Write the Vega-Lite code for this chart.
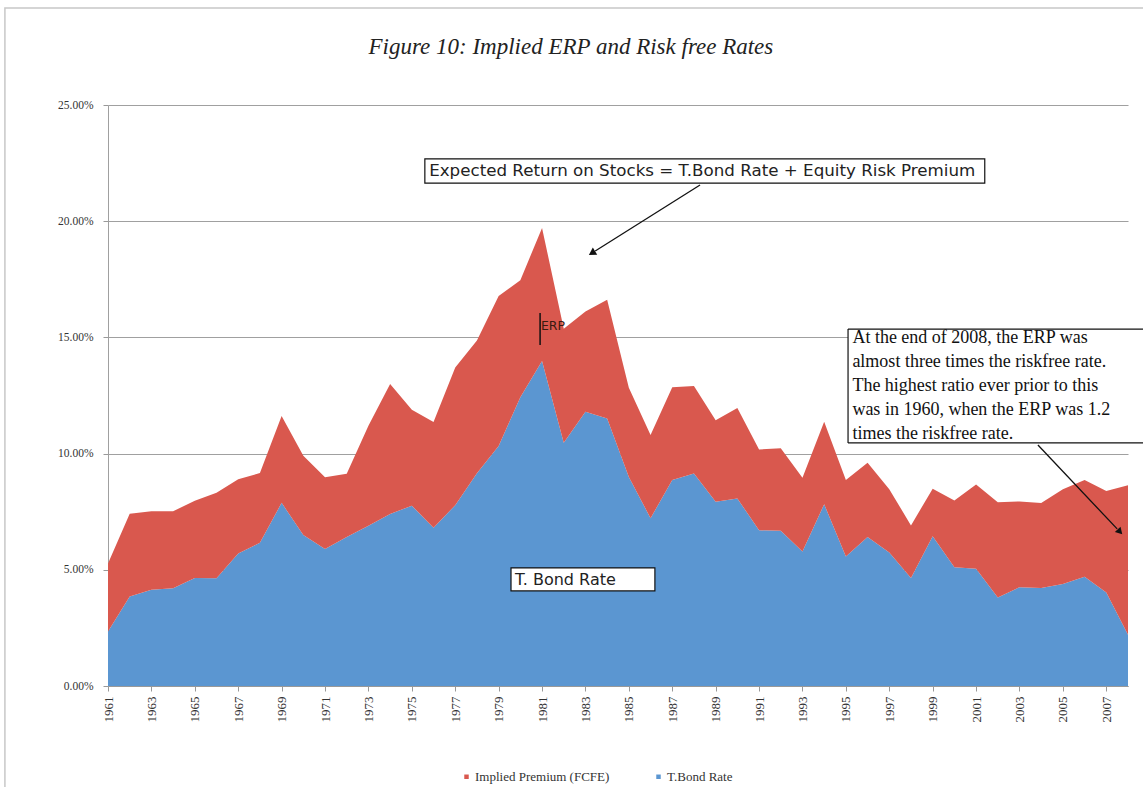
{
  "$schema": "https://vega.github.io/schema/vega-lite/v6.json",
  "width": 1020,
  "height": 581,
  "autosize": {"type": "none"},
  "padding": {"left": 108, "top": 105, "right": 15, "bottom": 101},
  "background": "white",
  "config": {"view": {"stroke": null}, "font": "Liberation Serif"},
  "data": {
    "values": [
      {"year": 1961, "series": "T.Bond Rate", "value": 0.0235}, {"year": 1961, "series": "Implied Premium (FCFE)", "value": 0.0292},
      {"year": 1962, "series": "T.Bond Rate", "value": 0.0385}, {"year": 1962, "series": "Implied Premium (FCFE)", "value": 0.0356},
      {"year": 1963, "series": "T.Bond Rate", "value": 0.0414}, {"year": 1963, "series": "Implied Premium (FCFE)", "value": 0.0338},
      {"year": 1964, "series": "T.Bond Rate", "value": 0.0421}, {"year": 1964, "series": "Implied Premium (FCFE)", "value": 0.0331},
      {"year": 1965, "series": "T.Bond Rate", "value": 0.0465}, {"year": 1965, "series": "Implied Premium (FCFE)", "value": 0.0332},
      {"year": 1966, "series": "T.Bond Rate", "value": 0.0464}, {"year": 1966, "series": "Implied Premium (FCFE)", "value": 0.0368},
      {"year": 1967, "series": "T.Bond Rate", "value": 0.0570}, {"year": 1967, "series": "Implied Premium (FCFE)", "value": 0.0320},
      {"year": 1968, "series": "T.Bond Rate", "value": 0.0616}, {"year": 1968, "series": "Implied Premium (FCFE)", "value": 0.0300},
      {"year": 1969, "series": "T.Bond Rate", "value": 0.0788}, {"year": 1969, "series": "Implied Premium (FCFE)", "value": 0.0374},
      {"year": 1970, "series": "T.Bond Rate", "value": 0.0650}, {"year": 1970, "series": "Implied Premium (FCFE)", "value": 0.0341},
      {"year": 1971, "series": "T.Bond Rate", "value": 0.0589}, {"year": 1971, "series": "Implied Premium (FCFE)", "value": 0.0309},
      {"year": 1972, "series": "T.Bond Rate", "value": 0.0641}, {"year": 1972, "series": "Implied Premium (FCFE)", "value": 0.0272},
      {"year": 1973, "series": "T.Bond Rate", "value": 0.0690}, {"year": 1973, "series": "Implied Premium (FCFE)", "value": 0.0430},
      {"year": 1974, "series": "T.Bond Rate", "value": 0.0740}, {"year": 1974, "series": "Implied Premium (FCFE)", "value": 0.0559},
      {"year": 1975, "series": "T.Bond Rate", "value": 0.0776}, {"year": 1975, "series": "Implied Premium (FCFE)", "value": 0.0413},
      {"year": 1976, "series": "T.Bond Rate", "value": 0.0681}, {"year": 1976, "series": "Implied Premium (FCFE)", "value": 0.0455},
      {"year": 1977, "series": "T.Bond Rate", "value": 0.0778}, {"year": 1977, "series": "Implied Premium (FCFE)", "value": 0.0592},
      {"year": 1978, "series": "T.Bond Rate", "value": 0.0915}, {"year": 1978, "series": "Implied Premium (FCFE)", "value": 0.0572},
      {"year": 1979, "series": "T.Bond Rate", "value": 0.1033}, {"year": 1979, "series": "Implied Premium (FCFE)", "value": 0.0645},
      {"year": 1980, "series": "T.Bond Rate", "value": 0.1243}, {"year": 1980, "series": "Implied Premium (FCFE)", "value": 0.0503},
      {"year": 1981, "series": "T.Bond Rate", "value": 0.1398}, {"year": 1981, "series": "Implied Premium (FCFE)", "value": 0.0573},
      {"year": 1982, "series": "T.Bond Rate", "value": 0.1047}, {"year": 1982, "series": "Implied Premium (FCFE)", "value": 0.0490},
      {"year": 1983, "series": "T.Bond Rate", "value": 0.1180}, {"year": 1983, "series": "Implied Premium (FCFE)", "value": 0.0431},
      {"year": 1984, "series": "T.Bond Rate", "value": 0.1151}, {"year": 1984, "series": "Implied Premium (FCFE)", "value": 0.0511},
      {"year": 1985, "series": "T.Bond Rate", "value": 0.0899}, {"year": 1985, "series": "Implied Premium (FCFE)", "value": 0.0384},
      {"year": 1986, "series": "T.Bond Rate", "value": 0.0722}, {"year": 1986, "series": "Implied Premium (FCFE)", "value": 0.0358},
      {"year": 1987, "series": "T.Bond Rate", "value": 0.0886}, {"year": 1987, "series": "Implied Premium (FCFE)", "value": 0.0399},
      {"year": 1988, "series": "T.Bond Rate", "value": 0.0914}, {"year": 1988, "series": "Implied Premium (FCFE)", "value": 0.0377},
      {"year": 1989, "series": "T.Bond Rate", "value": 0.0793}, {"year": 1989, "series": "Implied Premium (FCFE)", "value": 0.0351},
      {"year": 1990, "series": "T.Bond Rate", "value": 0.0807}, {"year": 1990, "series": "Implied Premium (FCFE)", "value": 0.0389},
      {"year": 1991, "series": "T.Bond Rate", "value": 0.0670}, {"year": 1991, "series": "Implied Premium (FCFE)", "value": 0.0348},
      {"year": 1992, "series": "T.Bond Rate", "value": 0.0668}, {"year": 1992, "series": "Implied Premium (FCFE)", "value": 0.0355},
      {"year": 1993, "series": "T.Bond Rate", "value": 0.0579}, {"year": 1993, "series": "Implied Premium (FCFE)", "value": 0.0317},
      {"year": 1994, "series": "T.Bond Rate", "value": 0.0782}, {"year": 1994, "series": "Implied Premium (FCFE)", "value": 0.0355},
      {"year": 1995, "series": "T.Bond Rate", "value": 0.0557}, {"year": 1995, "series": "Implied Premium (FCFE)", "value": 0.0329},
      {"year": 1996, "series": "T.Bond Rate", "value": 0.0641}, {"year": 1996, "series": "Implied Premium (FCFE)", "value": 0.0320},
      {"year": 1997, "series": "T.Bond Rate", "value": 0.0574}, {"year": 1997, "series": "Implied Premium (FCFE)", "value": 0.0273},
      {"year": 1998, "series": "T.Bond Rate", "value": 0.0465}, {"year": 1998, "series": "Implied Premium (FCFE)", "value": 0.0226},
      {"year": 1999, "series": "T.Bond Rate", "value": 0.0644}, {"year": 1999, "series": "Implied Premium (FCFE)", "value": 0.0205},
      {"year": 2000, "series": "T.Bond Rate", "value": 0.0511}, {"year": 2000, "series": "Implied Premium (FCFE)", "value": 0.0287},
      {"year": 2001, "series": "T.Bond Rate", "value": 0.0505}, {"year": 2001, "series": "Implied Premium (FCFE)", "value": 0.0362},
      {"year": 2002, "series": "T.Bond Rate", "value": 0.0381}, {"year": 2002, "series": "Implied Premium (FCFE)", "value": 0.0410},
      {"year": 2003, "series": "T.Bond Rate", "value": 0.0425}, {"year": 2003, "series": "Implied Premium (FCFE)", "value": 0.0369},
      {"year": 2004, "series": "T.Bond Rate", "value": 0.0422}, {"year": 2004, "series": "Implied Premium (FCFE)", "value": 0.0365},
      {"year": 2005, "series": "T.Bond Rate", "value": 0.0439}, {"year": 2005, "series": "Implied Premium (FCFE)", "value": 0.0408},
      {"year": 2006, "series": "T.Bond Rate", "value": 0.0470}, {"year": 2006, "series": "Implied Premium (FCFE)", "value": 0.0416},
      {"year": 2007, "series": "T.Bond Rate", "value": 0.0402}, {"year": 2007, "series": "Implied Premium (FCFE)", "value": 0.0437},
      {"year": 2008, "series": "T.Bond Rate", "value": 0.0221}, {"year": 2008, "series": "Implied Premium (FCFE)", "value": 0.0643}
    ]
  },
  "layer": [
    {
      "data": {"values": [{}]},
      "mark": {"type": "rect", "fill": null, "stroke": "#c8c8c8", "strokeWidth": 1.5},
      "encoding": {
        "x": {"datum": 1956.25, "type": "quantitative"},
        "x2": {"datum": 2011},
        "y": {"datum": 0.2917, "type": "quantitative"},
        "y2": {"datum": -0.06}
      }
    },
    {
      "data": {"values": [{}]},
      "mark": {"type": "text", "align": "center", "baseline": "middle", "font": "Liberation Serif", "fontStyle": "italic", "fontSize": 23, "color": "#222222", "text": "Figure 10: Implied ERP and Risk free Rates"},
      "encoding": {
        "x": {"datum": 1982.33, "type": "quantitative"},
        "y": {"datum": 0.275, "type": "quantitative"}
      }
    },
    {
      "mark": {"type": "area", "interpolate": "linear", "opacity": 1},
      "encoding": {
        "x": {
          "field": "year",
          "type": "quantitative",
          "scale": {"domain": [1961, 2008], "nice": false, "zero": false},
          "axis": {
            "title": null,
            "values": [1961,1962,1963,1964,1965,1966,1967,1968,1969,1970,1971,1972,1973,1974,1975,1976,1977,1978,1979,1980,1981,1982,1983,1984,1985,1986,1987,1988,1989,1990,1991,1992,1993,1994,1995,1996,1997,1998,1999,2000,2001,2002,2003,2004,2005,2006,2007,2008],
            "format": "d",
            "labelExpr": "datum.value % 2 == 1 ? datum.label : ''",
            "labelAngle": -90,
            "labelFont": "Liberation Serif",
            "labelFontSize": 13,
            "labelColor": "#333333",
            "labelPadding": 5,
            "labelOverlap": false,
            "labelFlush": false,
            "tickColor": "#999999",
            "tickSize": 5,
            "domainColor": "#999999",
            "grid": false
          }
        },
        "y": {
          "field": "value",
          "type": "quantitative",
          "stack": "zero",
          "scale": {"domain": [0, 0.25], "nice": false},
          "axis": {
            "title": null,
            "values": [0, 0.05, 0.1, 0.15, 0.2, 0.25],
            "format": ".2%",
            "labelFont": "Liberation Serif",
            "labelFontSize": 11.5,
            "labelColor": "#333333",
            "labelPadding": 10,
            "tickColor": "#999999",
            "tickSize": 5,
            "domainColor": "#a0a0a0",
            "grid": true,
            "gridColor": "#a0a0a0",
            "gridWidth": 1.2
          }
        },
        "color": {
          "field": "series",
          "type": "nominal",
          "scale": {"domain": ["Implied Premium (FCFE)", "T.Bond Rate"], "range": ["#d9584e", "#5b96d1"]},
          "legend": {
            "title": null,
            "orient": "none",
            "legendX": 352,
            "legendY": 665,
            "direction": "horizontal",
            "symbolType": "square",
            "symbolSize": 20,
            "symbolStrokeWidth": 0,
            "labelFont": "Liberation Serif",
            "labelFontSize": 13,
            "labelColor": "#333333",
            "labelOffset": 2,
            "columnPadding": 42
          }
        },
        "order": {"field": "series", "sort": "descending"}
      }
    },
    {
      "data": {"values": [{}]},
      "mark": {"type": "rect", "fill": "white", "stroke": "#111111", "strokeWidth": 1.2},
      "encoding": {
        "x": {"datum": 1975.6, "type": "quantitative"},
        "x2": {"datum": 2001.4},
        "y": {"datum": 0.2268, "type": "quantitative"},
        "y2": {"datum": 0.2164}
      }
    },
    {
      "data": {"values": [{}]},
      "mark": {"type": "text", "align": "left", "baseline": "middle", "font": "DejaVu Sans", "fontSize": 16.7, "color": "#222222", "text": "Expected Return on Stocks = T.Bond Rate + Equity Risk Premium"},
      "encoding": {
        "x": {"datum": 1975.8, "type": "quantitative"},
        "y": {"datum": 0.2216, "type": "quantitative"}
      }
    },
    {
      "data": {"values": [{}]},
      "mark": {"type": "rule", "color": "#111111", "strokeWidth": 1.3},
      "encoding": {
        "x": {"datum": 1988.28, "type": "quantitative"},
        "x2": {"datum": 1983.45},
        "y": {"datum": 0.2156, "type": "quantitative"},
        "y2": {"datum": 0.1872}
      }
    },
    {
      "data": {"values": [{}]},
      "mark": {"type": "point", "shape": "triangle-up", "filled": true, "color": "#111111", "size": 70, "angle": 238, "opacity": 1},
      "encoding": {
        "x": {"datum": 1983.3, "type": "quantitative"},
        "y": {"datum": 0.1863, "type": "quantitative"}
      }
    },
    {
      "data": {"values": [{}]},
      "mark": {"type": "rule", "color": "#111111", "strokeWidth": 1.5},
      "encoding": {
        "x": {"datum": 1980.91, "type": "quantitative"},
        "y": {"datum": 0.1605, "type": "quantitative"},
        "y2": {"datum": 0.1467}
      }
    },
    {
      "data": {"values": [{}]},
      "mark": {"type": "text", "align": "left", "baseline": "middle", "font": "DejaVu Sans", "fontSize": 12.5, "color": "#3a1a10", "text": "ERP"},
      "encoding": {
        "x": {"datum": 1980.95, "type": "quantitative"},
        "y": {"datum": 0.1549, "type": "quantitative"}
      }
    },
    {
      "data": {"values": [{}]},
      "mark": {"type": "rect", "fill": "white", "stroke": "#111111", "strokeWidth": 1.2},
      "encoding": {
        "x": {"datum": 1979.57, "type": "quantitative"},
        "x2": {"datum": 1986.2},
        "y": {"datum": 0.0508, "type": "quantitative"},
        "y2": {"datum": 0.0409}
      }
    },
    {
      "data": {"values": [{}]},
      "mark": {"type": "text", "align": "left", "baseline": "middle", "font": "DejaVu Sans", "fontSize": 16, "color": "#222222", "text": "T. Bond Rate"},
      "encoding": {
        "x": {"datum": 1979.75, "type": "quantitative"},
        "y": {"datum": 0.0458, "type": "quantitative"}
      }
    },
    {
      "data": {"values": [{}]},
      "mark": {"type": "rect", "fill": "white", "strokeWidth": 0},
      "encoding": {
        "x": {"datum": 1995.1, "type": "quantitative"},
        "x2": {"datum": 2012},
        "y": {"datum": 0.1536, "type": "quantitative"},
        "y2": {"datum": 0.1046}
      }
    },
    {
      "data": {"values": [{}]},
      "mark": {"type": "rule", "color": "#111111", "strokeWidth": 1.2},
      "encoding": {
        "x": {"datum": 1995.1, "type": "quantitative"},
        "y": {"datum": 0.1536, "type": "quantitative"},
        "y2": {"datum": 0.1046}
      }
    },
    {
      "data": {"values": [{}]},
      "mark": {"type": "rule", "color": "#111111", "strokeWidth": 1.2},
      "encoding": {
        "x": {"datum": 1995.1, "type": "quantitative"},
        "x2": {"datum": 2012},
        "y": {"datum": 0.1536, "type": "quantitative"}
      }
    },
    {
      "data": {"values": [{}]},
      "mark": {"type": "rule", "color": "#111111", "strokeWidth": 1.2},
      "encoding": {
        "x": {"datum": 1995.1, "type": "quantitative"},
        "x2": {"datum": 2012},
        "y": {"datum": 0.1046, "type": "quantitative"}
      }
    },
    {
      "data": {"values": [{}]},
      "mark": {"type": "text", "align": "left", "baseline": "middle", "font": "Liberation Serif", "fontSize": 18, "color": "#111111", "lineBreak": "\n", "lineHeight": 24, "text": "At the end of 2008, the ERP was\nalmost three times the riskfree rate.\nThe highest ratio ever prior to this\nwas in 1960, when the ERP was 1.2\ntimes the riskfree rate."},
      "encoding": {
        "x": {"datum": 1995.3, "type": "quantitative"},
        "y": {"datum": 0.1497, "type": "quantitative"}
      }
    },
    {
      "data": {"values": [{}]},
      "mark": {"type": "rule", "color": "#111111", "strokeWidth": 1.3},
      "encoding": {
        "x": {"datum": 2003.85, "type": "quantitative"},
        "x2": {"datum": 2007.5},
        "y": {"datum": 0.1037, "type": "quantitative"},
        "y2": {"datum": 0.0676}
      }
    },
    {
      "data": {"values": [{}]},
      "mark": {"type": "point", "shape": "triangle-up", "filled": true, "color": "#111111", "size": 60, "angle": 137, "opacity": 1},
      "encoding": {
        "x": {"datum": 2007.63, "type": "quantitative"},
        "y": {"datum": 0.0663, "type": "quantitative"}
      }
    }
  ]
}
